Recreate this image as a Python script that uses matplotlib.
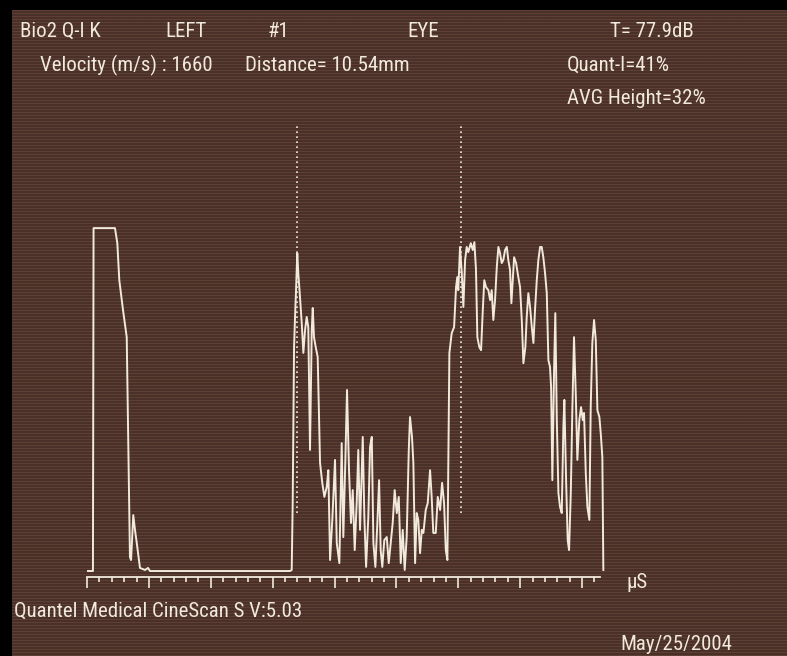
import numpy as np
import matplotlib.pyplot as plt
from matplotlib import font_manager
from matplotlib.ticker import MultipleLocator, NullFormatter

# A-scan trace: time (us) against echo amplitude (% of full scale)
time_us = [
    0.08, 0.48, 0.53, 2.26, 2.45, 2.61, 2.91, 3.21, 3.47, 3.56, 3.74, 3.88, 4.02, 4.28, 4.69, 4.93, 5.09,
    16.40, 16.54, 16.62, 16.73, 16.81, 16.89, 16.99, 17.07, 17.21, 17.35,
    17.48, 17.62, 17.75, 17.88, 18.02, 18.16, 18.24, 18.34, 18.48, 18.64,
    18.83, 19.01, 19.18, 19.37, 19.50, 19.64, 19.82, 20.04, 20.18, 20.39,
    20.58, 20.71, 20.87, 21.01, 21.17, 21.33, 21.47, 21.63, 21.79, 21.92,
    22.06, 22.28, 22.41, 22.55, 22.73, 22.87, 23.01, 23.14, 23.30, 23.46,
    23.60, 23.73, 23.86, 24.02, 24.22, 24.38, 24.54, 24.70, 24.86, 25.03,
    25.19, 25.35, 25.51, 25.67, 25.83, 26.00, 26.10, 26.26, 26.37, 26.51,
    26.64, 26.77, 26.91, 27.05, 27.18, 27.37, 27.53, 27.72, 27.85, 27.98,
    28.18, 28.34, 28.53, 28.69, 28.85, 28.99, 29.12, 29.21, 29.28, 29.47,
    29.66, 29.82, 29.92, 30.00, 30.14, 30.28, 30.41, 30.55, 30.68, 30.81,
    31.01, 31.17, 31.30, 31.43, 31.54, 31.70, 31.84, 31.98, 32.10, 32.24,
    32.43, 32.57, 32.70, 32.83, 32.97, 33.11, 33.24, 33.37, 33.51, 33.64,
    33.78, 33.92, 34.04, 34.18, 34.29, 34.40, 34.51, 34.67, 34.85, 34.99,
    35.13, 35.26, 35.42, 35.53, 35.66, 35.80, 35.94, 36.07, 36.20, 36.34,
    36.47, 36.61, 36.74, 36.87, 37.01, 37.15, 37.28, 37.41, 37.50, 37.60,
    37.74, 37.84, 37.96, 38.09, 38.22, 38.36, 38.49, 38.57, 38.71, 38.84,
    38.95, 39.09, 39.22, 39.35, 39.49, 39.62, 39.78, 39.92, 40.06, 40.16,
    40.30, 40.43, 40.59, 40.70, 40.83, 40.97, 41.11, 41.24, 41.40, 41.51,
    41.64, 41.72,
]
amp_pct = [
    0, 0, 100, 100, 95.6, 84.8, 76.1, 68.2, 4.1, 3.2, 16.3, 11.9, 8.2, 0.9, 0.3, 0.9, 0,
    0, 0.3, 19.8, 65.3, 74.1, 81.9, 92.7, 86.9, 79.9, 72.3,
    63.6, 70.3, 74.1, 71.1, 35.3, 70.3, 76.7, 68.2, 65.3, 62.4,
    31.5, 25.7, 21.6, 24.5, 29.4, 3.2, 14.9, 32.4, 8.2, 2.3,
    37.3, 9.9, 31.5, 52.8, 29.4, 14.0, 23.6, 6.1, 19.8, 35.3,
    12.0, 39.1, 15.7, 1.2, 15.7, 36.2, 39.1, 8.2, 1.2, 14.0,
    26.5, 6.1, 1.2, 9.0, 9.9, 2.3, 8.2, 14.0, 23.6, 16.9,
    21.6, 2.3, 12.0, 0.3, 9.9, 35.3, 44.9, 39.1, 31.5, 2.3,
    16.9, 14.9, 5.2, 12.0, 11.1, 17.8, 19.8, 29.4, 21.6, 11.1,
    11.1, 21.6, 17.8, 25.7, 19.8, 6.1, 3.2, 38.0, 63.6, 69.4,
    71.1, 82.8, 85.7, 81.9, 94.5, 86.9, 77.0, 90.7, 94.5, 93.0,
    95.6, 93.6, 95.9, 87.8, 68.2, 65.3, 64.4, 76.1, 84.8, 82.8,
    81.9, 79.0, 81.9, 73.2, 79.0, 88.6, 94.5, 92.7, 89.8, 90.7,
    93.6, 94.5, 90.7, 87.8, 78.1, 84.8, 91.5, 89.8, 85.7, 82.8,
    73.2, 60.6, 65.3, 74.1, 81.0, 77.0, 71.1, 66.5, 76.1, 84.8,
    90.7, 94.5, 94.5, 91.5, 86.9, 81.0, 61.5, 59.5, 53.6, 26.5,
    58.6, 75.2, 44.0, 22.7, 18.7, 16.9, 42.0, 49.9, 26.5, 9.0,
    6.1, 22.7, 47.8, 68.2, 51.9, 32.4, 44.0, 47.8, 44.0, 46.1,
    28.6, 18.7, 14.9, 47.8, 66.5, 73.2, 67.3, 46.9, 44.9, 40.2,
    33.2, 0.3,
]

# measurement gates (dotted cursors)
gate_us = [16.97, 30.18]
gate_lo, gate_hi = 17.0, 129.7

# pick a condensed face if there is one
fonts = font_manager.fontManager.ttflist
installed = {f.name for f in fonts}
face, stretch = 'Liberation Sans', 'normal'
for name in ['Liberation Sans Narrow', 'Roboto Condensed', 'Open Sans Condensed',
             'DejaVu Sans Condensed', 'Noto Sans Condensed']:
    if name in installed:
        face = name
        break
else:
    for f in fonts:
        if f.name in ('Roboto', 'Noto Sans', 'Open Sans', 'DejaVu Sans') and \
                f.stretch in ('condensed', 'semi-condensed') and f.style == 'normal':
            face, stretch = f.name, f.stretch
            break
plt.rcParams['font.family'] = [face, 'DejaVu Sans']
plt.rcParams['font.stretch'] = stretch

ink = '#f1e9dc'
W, H = 787, 656
fig = plt.figure(figsize=(W / 100, H / 100), dpi=100, facecolor='black')

# size the lettering so the footer line spans its width on screen
probe = fig.text(0, 0, 'Quantel Medical CineScan S V:5.03', fontsize=10)
pw = probe.get_window_extent(fig.canvas.get_renderer()).width
probe.remove()
fs = min(10 * 288 / pw, 20)

# brown screen with faint scan lines
bg = fig.add_axes([12 / W, 0, (W - 12) / W, (H - 10) / H])
rows = np.arange(H - 10)
shade = 0.5 + 0.5 * np.cos(2 * np.pi * rows / 3.0)
base = np.array([66, 43, 36]) / 255
lite = np.array([96, 64, 52]) / 255
stripes = base + shade[:, None] * (lite - base)
bg.imshow(np.repeat(stripes[:, None, :], 4, axis=1), aspect='auto',
          interpolation='antialiased')
bg.set_axis_off()

# trace axes: only the time axis along the bottom
x0, x1, ybot, ytop = 87, 600, 576.5, 10
ax = fig.add_axes([x0 / W, 1 - ybot / H, (x1 - x0) / W, (ybot - ytop) / H])
ax.patch.set_alpha(0)
ax.set_xlim(0, 41.45)
ax.set_ylim(-1.6, 163.6)
for s in ['top', 'left', 'right']:
    ax.spines[s].set_visible(False)
ax.spines['bottom'].set_color(ink)
ax.spines['bottom'].set_linewidth(1.3)
ax.xaxis.set_major_locator(MultipleLocator(5))
ax.xaxis.set_minor_locator(MultipleLocator(1))
ax.xaxis.set_major_formatter(NullFormatter())
ax.tick_params(axis='x', which='major', direction='out', length=8,
               width=1.2, color=ink)
ax.tick_params(axis='x', which='minor', direction='out', length=3.5,
               width=1.2, color=ink)
ax.set_yticks([])

ax.plot(time_us, amp_pct, color=ink, lw=1.4, clip_on=False)
ax.vlines(gate_us, gate_lo, gate_hi, colors=ink, lw=1.2,
          linestyles=(0, (1, 2)))

# screen annotations
def label(x, y, s):
    fig.text(x / W, 1 - y / H, s, color=ink, fontsize=fs,
             ha='left', va='baseline')

label(20, 37, 'Bio2 Q-I K')
label(165, 37, 'LEFT')
label(268, 37, '#1')
label(407, 37, 'EYE')
label(610, 37, 'T= 77.9dB')
label(40, 71, 'Velocity (m/s) : 1660')
label(245, 71, 'Distance= 10.54mm')
label(567, 71, 'Quant-I=41%')
label(567, 104, 'AVG Height=32%')
label(627, 588, 'µS')
label(14, 617, 'Quantel Medical CineScan S V:5.03')
label(620, 650, 'May/25/2004')

fig.savefig('out.png', dpi=100, facecolor='black')
